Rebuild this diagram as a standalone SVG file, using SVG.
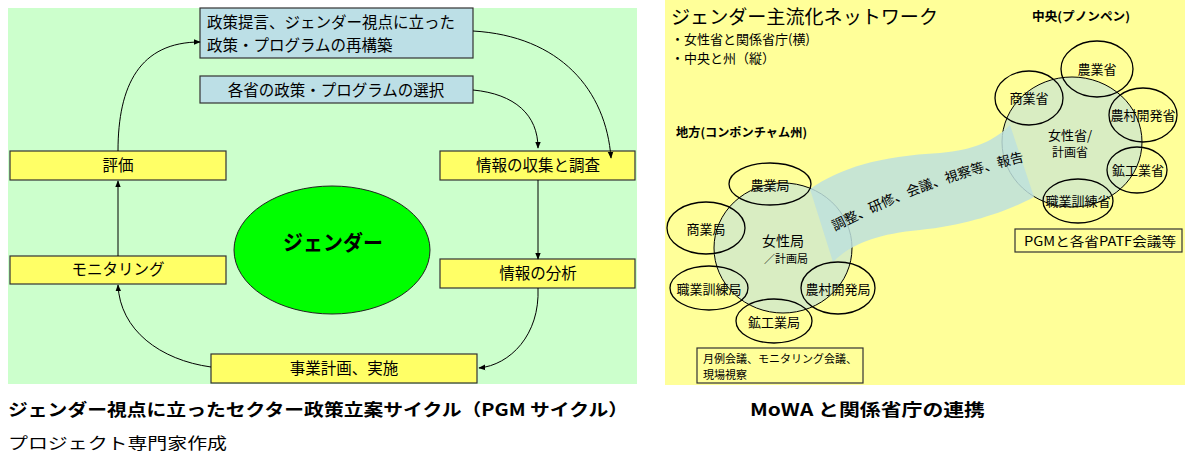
<svg xmlns="http://www.w3.org/2000/svg" width="1185" height="454" viewBox="0 0 1185 454">
<defs>
<marker id="ah" viewBox="0 0 10 10" refX="9" refY="5" markerWidth="7" markerHeight="7" orient="auto" markerUnits="userSpaceOnUse"><path d="M0,1 L10,5 L0,9 Z" fill="#000"/></marker>
<path id="rib" d="M835,231 C880,209 935,180 1045,157"/>
</defs>
<style>
text{font-family:"Noto Sans CJK JP","Noto Sans",sans-serif;fill:#000}
.yb{fill:#FFFF66;stroke:#333;stroke-width:1.2}
.bb{fill:#BCDFE6;stroke:#333;stroke-width:1.2}
.t16{font-size:15.5px}
.c{text-anchor:middle}
.con{fill:none;stroke:#000;stroke-width:1;marker-end:url(#ah)}
.sm{fill:none;stroke:#000;stroke-width:1.3}
.big{fill:#D9EDC2;stroke:#000;stroke-width:1}
.t13{font-size:13px}
.t12{font-size:12px}
.b{font-weight:bold}
</style>
<rect x="8" y="8" width="629" height="376" fill="#CCFFCC"/>
<rect x="665" y="0" width="520" height="385" fill="#FFFF99"/>

<g id="n-top"><rect class="bb" x="200" y="8" width="273" height="50"/>
<text class="t16" x="207" y="28">政策提言、ジェンダー視点に立った</text>
<text class="t16" x="207" y="51">政策・プログラムの再構築</text></g>
<g id="n-select"><rect class="bb" x="200" y="76" width="273" height="27"/>
<text class="t16 c" x="336" y="96">各省の政策・プログラムの選択</text></g>
<g id="n-eval"><rect class="yb" x="10" y="151" width="216" height="29"/>
<text class="t16 c" x="118" y="171">評価</text></g>
<g id="n-collect"><rect class="yb" x="440" y="151" width="195" height="29"/>
<text class="t16 c" x="538" y="171">情報の収集と調査</text></g>
<g id="n-monitor"><rect class="yb" x="10" y="256" width="216" height="28"/>
<text class="t16 c" x="118" y="275">モニタリング</text></g>
<g id="n-analysis"><rect class="yb" x="440" y="259" width="195" height="29"/>
<text class="t16 c" x="538" y="279">情報の分析</text></g>
<g id="n-plan"><rect class="yb" x="211" y="354" width="266" height="29"/>
<text class="t16 c" x="344" y="374">事業計画、実施</text></g>
<g id="n-gender"><ellipse cx="332" cy="250" rx="98" ry="64" fill="#00FF00" stroke="#222" stroke-width="1"/>
<text class="c b" x="333" y="250" font-size="21" textLength="100" lengthAdjust="spacingAndGlyphs">ジェンダー</text></g>

<g id="connectors">
<path class="con" d="M118,151 C118,85 140,42 200,42"/>
<path class="con" d="M473,31 C560,36 606,90 611,158"/>
<path class="con" d="M473,90 C515,94 538,115 538,148"/>
<path class="con" d="M538,180 L538,259"/>
<path class="con" d="M538,288 C540,335 510,365 479,368"/>
<path class="con" d="M211,367 C160,360 120,330 118,285"/>
<path class="con" d="M118,256 L118,181"/>
</g>

<g id="right-title">
<text x="671" y="24" font-size="19" textLength="267" lengthAdjust="spacingAndGlyphs">ジェンダー主流化ネットワーク</text>
<text x="671" y="44" class="t13">・女性省と関係省庁(横)</text>
<text x="671" y="63" class="t13">・中央と州（縦）</text>
<text x="1032" y="21" class="t12 b" textLength="98" lengthAdjust="spacingAndGlyphs">中央(プノンペン)</text>
<text x="676" y="137" class="t12 b" textLength="131" lengthAdjust="spacingAndGlyphs">地方(コンポンチャム州)</text>
</g>

<g id="big-circles">
<ellipse class="big" cx="1072" cy="142" rx="70" ry="65"/>
<ellipse class="big" cx="783" cy="248" rx="69" ry="65"/>
</g>

<g id="ribbon">
<path d="M810,189 C840,168 880,156 940,153 C975,150 995,140 1010,125 L1034,197 C1010,210 970,225 920,230 C875,234 850,245 833,262 Z" fill="#BDE0DD" fill-opacity="0.85"/>
<text font-size="13.5"><textPath href="#rib">調整、研修、会議、視察等、報告</textPath></text>
</g>

<g id="central">
<text class="t13 c" x="1070" y="140">女性省/</text>
<text class="t12 c" x="1070" y="157">計画省</text>
</g>
<g id="c-agri"><ellipse class="sm" cx="1097" cy="69" rx="36" ry="28"/><text class="t13 c" x="1097" y="74">農業省</text></g>
<g id="c-comm"><ellipse class="sm" cx="1029" cy="98" rx="34" ry="27"/><text class="t13 c" x="1029" y="103">商業省</text></g>
<g id="c-rural"><ellipse class="sm" cx="1143" cy="115" rx="34" ry="27"/><text class="t13 c" x="1143" y="120">農村開発省</text></g>
<g id="c-mine"><ellipse class="sm" cx="1137" cy="170" rx="30" ry="23"/><text class="t13 c" x="1138" y="175">鉱工業省</text></g>
<g id="c-voc"><ellipse class="sm" cx="1078" cy="201" rx="35" ry="22"/><text class="t13 c" x="1078" y="206">職業訓練省</text></g>
<g id="c-box"><rect x="1015" y="229" width="167" height="23" fill="none" stroke="#333" stroke-width="1.2"/><text class="t13 c" x="1100" y="246" textLength="152" lengthAdjust="spacingAndGlyphs">PGMと各省PATF会議等</text></g>

<g id="local">
<text class="c" font-size="14" x="783" y="246">女性局</text>
<text class="c" font-size="11" x="786" y="263">／計画局</text>
</g>
<g id="l-agri"><ellipse class="sm" cx="770" cy="184" rx="41" ry="21"/><text class="t13 c" x="770" y="190">農業局</text></g>
<g id="l-comm"><ellipse class="sm" cx="706" cy="228" rx="39" ry="26"/><text class="t13 c" x="706" y="234">商業局</text></g>
<g id="l-voc"><ellipse class="sm" cx="709" cy="288" rx="39" ry="22"/><text class="t13 c" x="709" y="294">職業訓練局</text></g>
<g id="l-mine"><ellipse class="sm" cx="774" cy="321" rx="38" ry="22"/><text class="t13 c" x="774" y="327">鉱工業局</text></g>
<g id="l-rural"><ellipse class="sm" cx="838" cy="288" rx="37" ry="26"/><text class="t13 c" x="838" y="294">農村開発局</text></g>
<g id="l-box"><rect x="697" y="348" width="166" height="35" fill="none" stroke="#333" stroke-width="1.2"/>
<text x="703" y="363" font-size="11">月例会議、モニタリング会議、</text>
<text x="703" y="379" font-size="11">現場視察</text></g>

<g id="captions">
<text x="8" y="416" font-size="17" class="b" textLength="620" lengthAdjust="spacingAndGlyphs">ジェンダー視点に立ったセクター政策立案サイクル（PGM サイクル）</text>
<text x="750" y="416" font-size="17" class="b" textLength="235" lengthAdjust="spacingAndGlyphs">MoWA と関係省庁の連携</text>
<text x="8" y="449" font-size="16" textLength="219" lengthAdjust="spacingAndGlyphs">プロジェクト専門家作成</text>
</g>
</svg>
